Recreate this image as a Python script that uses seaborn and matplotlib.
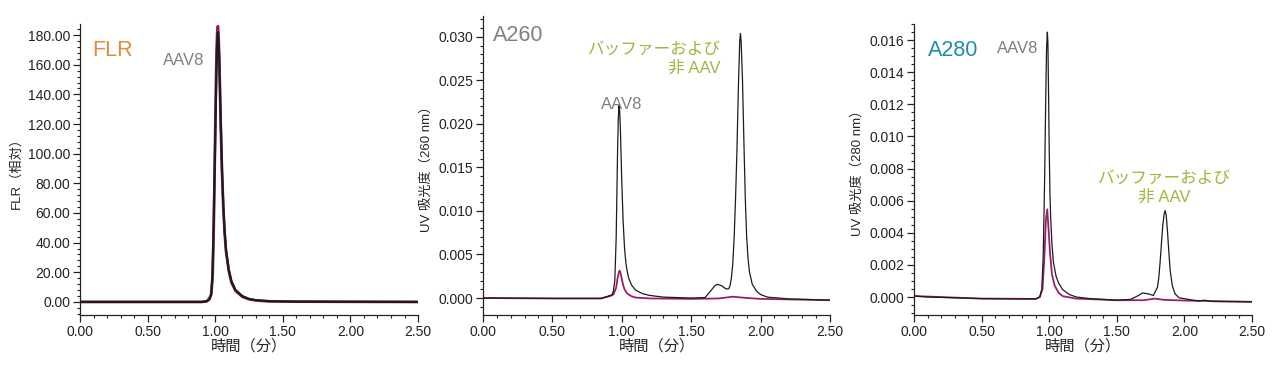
import numpy as np
import pandas as pd
import seaborn as sns
import matplotlib.pyplot as plt
from matplotlib.ticker import MultipleLocator, AutoMinorLocator, FormatStrFormatter

# FLR trace (time in min, relative units)
flr_t = [0.00, 0.50, 0.90, 0.94, 0.96, 0.97, 0.98, 0.985, 0.99, 0.995, 1.00, 1.005, 1.01,
         1.015, 1.02, 1.025, 1.03, 1.035, 1.04, 1.05, 1.06, 1.07, 1.08, 1.10, 1.12, 1.15,
         1.20, 1.25, 1.30, 1.40, 1.60, 2.00, 2.50]
flr_black = [0, 0, 0, 0.5, 2, 5, 20, 38, 60, 85, 110, 137, 160,
             176, 182, 176, 163, 145, 125, 90, 65, 47, 35, 22, 14, 8,
             4, 2, 1.2, 0.5, 0.2, 0.1, 0]
flr_magenta = [0, 0, 0, 0.5, 3, 5, 15, 33, 55, 85, 115, 145, 170,
               182, 186, 179, 164, 143, 122, 88, 63, 46, 34, 21, 13, 7.5,
               3.5, 1.8, 1.0, 0.4, 0.2, 0.1, 0]

# A260 traces (absorbance x 1e-3)
a260_black_t = [0.00, 0.50, 0.85, 0.90, 0.92, 0.93, 0.94, 0.95, 0.96, 0.965, 0.97, 0.975,
                0.98, 0.985, 0.99, 0.995, 1.00, 1.01, 1.02, 1.03, 1.04, 1.05, 1.07, 1.10,
                1.15, 1.20, 1.30, 1.50, 1.60, 1.64, 1.67, 1.69, 1.72, 1.75, 1.77, 1.78,
                1.79, 1.80, 1.81, 1.82, 1.83, 1.84, 1.85, 1.855, 1.86, 1.87, 1.88, 1.89,
                1.90, 1.91, 1.92, 1.94, 1.97, 2.00, 2.05, 2.20, 2.50]
a260_black = [0.0, -0.05, -0.05, 0.2, 0.3, 0.4, 0.8, 2.0, 7, 12, 17, 20.5,
              22.1, 21.5, 19.5, 16.5, 13.5, 8.8, 5.8, 4.0, 3.0, 2.3, 1.5, 0.9,
              0.5, 0.3, 0.1, 0.0, 0.05, 0.8, 1.4, 1.57, 1.4, 1.05, 1.05, 1.4,
              2.3, 4.0, 7, 11.5, 17, 24, 29.5, 30.4, 29.5, 25, 18, 11.5,
              7, 4.5, 3.0, 1.6, 0.8, 0.4, 0.1, -0.1, -0.25]
a260_mag_t = [0.00, 0.50, 0.85, 0.90, 0.92, 0.94, 0.96, 0.97, 0.98, 0.985, 0.99, 1.00,
              1.01, 1.02, 1.04, 1.07, 1.10, 1.20, 1.50, 1.70, 1.80, 1.90, 2.00, 2.50]
a260_magenta = [0.0, -0.05, -0.05, 0.15, 0.25, 0.4, 1.2, 2.3, 3.0, 3.15, 2.95, 2.2,
                1.5, 1.0, 0.5, 0.2, 0.05, -0.05, -0.1, -0.05, 0.15, 0.0, -0.1, -0.25]

# A280 traces (absorbance x 1e-3)
a280_black_t = [0.00, 0.10, 0.50, 0.90, 0.93, 0.945, 0.955, 0.965, 0.975, 0.98, 0.986,
                0.99, 0.995, 1.00, 1.005, 1.01, 1.02, 1.03, 1.05, 1.07, 1.10, 1.15, 1.20,
                1.30, 1.50, 1.60, 1.65, 1.69, 1.73, 1.77, 1.80, 1.81, 1.82, 1.83, 1.84,
                1.85, 1.857, 1.865, 1.875, 1.885, 1.895, 1.91, 1.93, 1.96, 2.10, 2.15,
                2.20, 2.50]
a280_black = [0.06, 0.0, -0.1, -0.12, 0.0, 0.5, 2.5, 7, 13, 15.5, 16.5,
              15.8, 12.5, 9, 6.5, 5.0, 3.3, 2.2, 1.3, 0.85, 0.45, 0.15, 0.0,
              -0.1, -0.2, -0.15, 0.05, 0.25, 0.2, 0.1, 0.6, 1.2, 2.2, 3.4, 4.5,
              5.2, 5.38, 5.1, 4.0, 2.7, 1.6, 0.7, 0.2, -0.05, -0.25, -0.2,
              -0.28, -0.3]
a280_mag_t = [0.00, 0.50, 0.90, 0.93, 0.95, 0.965, 0.975, 0.985, 0.995, 1.006, 1.02, 1.04,
              1.07, 1.10, 1.20, 1.50, 1.70, 1.78, 1.85, 2.00, 2.50]
a280_magenta = [0.06, -0.1, -0.12, 0.0, 0.5, 2.7, 4.8, 5.46, 4.2, 2.7, 1.4, 0.7,
                0.25, 0.05, -0.1, -0.2, -0.2, -0.1, -0.18, -0.22, -0.3]

BLACK = "#1c1c1c"
MAGENTA = "#99206a"
GREY = "#808080"
GREEN = "#9cb83e"

sns.set_style("ticks")
plt.rcParams['font.family'] = ['Liberation Sans', 'Noto Sans CJK JP']
plt.rcParams['lines.solid_capstyle'] = 'round'
plt.rcParams['lines.solid_joinstyle'] = 'round'

fig = plt.figure(figsize=(12.8, 3.71), dpi=100)
ax1 = fig.add_axes([0.0625, 0.151, 0.2641, 0.784])
ax2 = fig.add_axes([0.3773, 0.151, 0.2711, 0.806])
ax3 = fig.add_axes([0.7141, 0.151, 0.2641, 0.784])

# FLR
sns.lineplot(x=flr_t, y=flr_magenta, ax=ax1, color=MAGENTA, lw=2.0)
sns.lineplot(x=flr_t, y=flr_black, ax=ax1, color=BLACK, lw=1.6)
ax1.set_ylim(-8.8, 187.4)
ax1.yaxis.set_major_locator(MultipleLocator(20))
ax1.yaxis.set_minor_locator(AutoMinorLocator(5))
ax1.yaxis.set_major_formatter(FormatStrFormatter('%.2f'))
ax1.set_ylabel("FLR（相対）", fontsize=9.5)
ax1.text(0.035, 0.91, "FLR", transform=ax1.transAxes, color="#e08a3c", fontsize=15.5, va='center')
ax1.text(0.245, 0.875, "AAV8", transform=ax1.transAxes, color=GREY, fontsize=12, va='center')

# A260
sns.lineplot(x=np.array(a260_mag_t), y=np.array(a260_magenta) / 1000, ax=ax2, color=MAGENTA, lw=1.3)
sns.lineplot(x=np.array(a260_black_t), y=np.array(a260_black) / 1000, ax=ax2, color=BLACK, lw=0.9)
ax2.set_ylim(-0.00195, 0.0324)
ax2.yaxis.set_major_locator(MultipleLocator(0.005))
ax2.yaxis.set_minor_locator(AutoMinorLocator(5))
ax2.yaxis.set_major_formatter(FormatStrFormatter('%.3f'))
ax2.set_ylabel("UV 吸光度（260 nm）", fontsize=9.5)
ax2.text(0.03, 0.935, "A260", transform=ax2.transAxes, color=GREY, fontsize=15.5, va='center')
ax2.text(0.34, 0.705, "AAV8", transform=ax2.transAxes, color=GREY, fontsize=12, va='center')
ax2.text(0.685, 0.855, "バッファーおよび\n非 AAV", transform=ax2.transAxes, color=GREEN,
         fontsize=12, ha='right', va='center', multialignment='right', linespacing=1.25)

# A280
sns.lineplot(x=np.array(a280_mag_t), y=np.array(a280_magenta) / 1000, ax=ax3, color=MAGENTA, lw=1.3)
sns.lineplot(x=np.array(a280_black_t), y=np.array(a280_black) / 1000, ax=ax3, color=BLACK, lw=0.9)
ax3.set_ylim(-0.00112, 0.0170)
ax3.yaxis.set_major_locator(MultipleLocator(0.002))
ax3.yaxis.set_minor_locator(AutoMinorLocator(4))
ax3.yaxis.set_major_formatter(FormatStrFormatter('%.3f'))
ax3.set_ylabel("UV 吸光度（280 nm）", fontsize=9.5)
ax3.text(0.04, 0.91, "A280", transform=ax3.transAxes, color="#1e8cb0", fontsize=15.5, va='center')
ax3.text(0.245, 0.915, "AAV8", transform=ax3.transAxes, color=GREY, fontsize=12, va='center')
ax3.text(0.74, 0.435, "バッファーおよび\n非 AAV", transform=ax3.transAxes, color=GREEN,
         fontsize=12, ha='center', va='center', multialignment='center', linespacing=1.25)

for ax in (ax1, ax2, ax3):
    ax.set_xlim(0, 2.5)
    ax.xaxis.set_major_locator(MultipleLocator(0.5))
    ax.xaxis.set_minor_locator(AutoMinorLocator(5))
    ax.xaxis.set_major_formatter(FormatStrFormatter('%.2f'))
    ax.set_xlabel("時間（分）", fontsize=11, labelpad=0)
    ax.tick_params(which='major', length=5, width=0.9, labelsize=10, colors='#222222', pad=2)
    ax.tick_params(which='minor', length=2.5, width=0.8, colors='#222222')
    ax.yaxis.labelpad = 4
    for s in ('left', 'bottom'):
        ax.spines[s].set_linewidth(0.9)
        ax.spines[s].set_color('#222222')
    sns.despine(ax=ax)

fig.savefig("out.png", dpi=100)
